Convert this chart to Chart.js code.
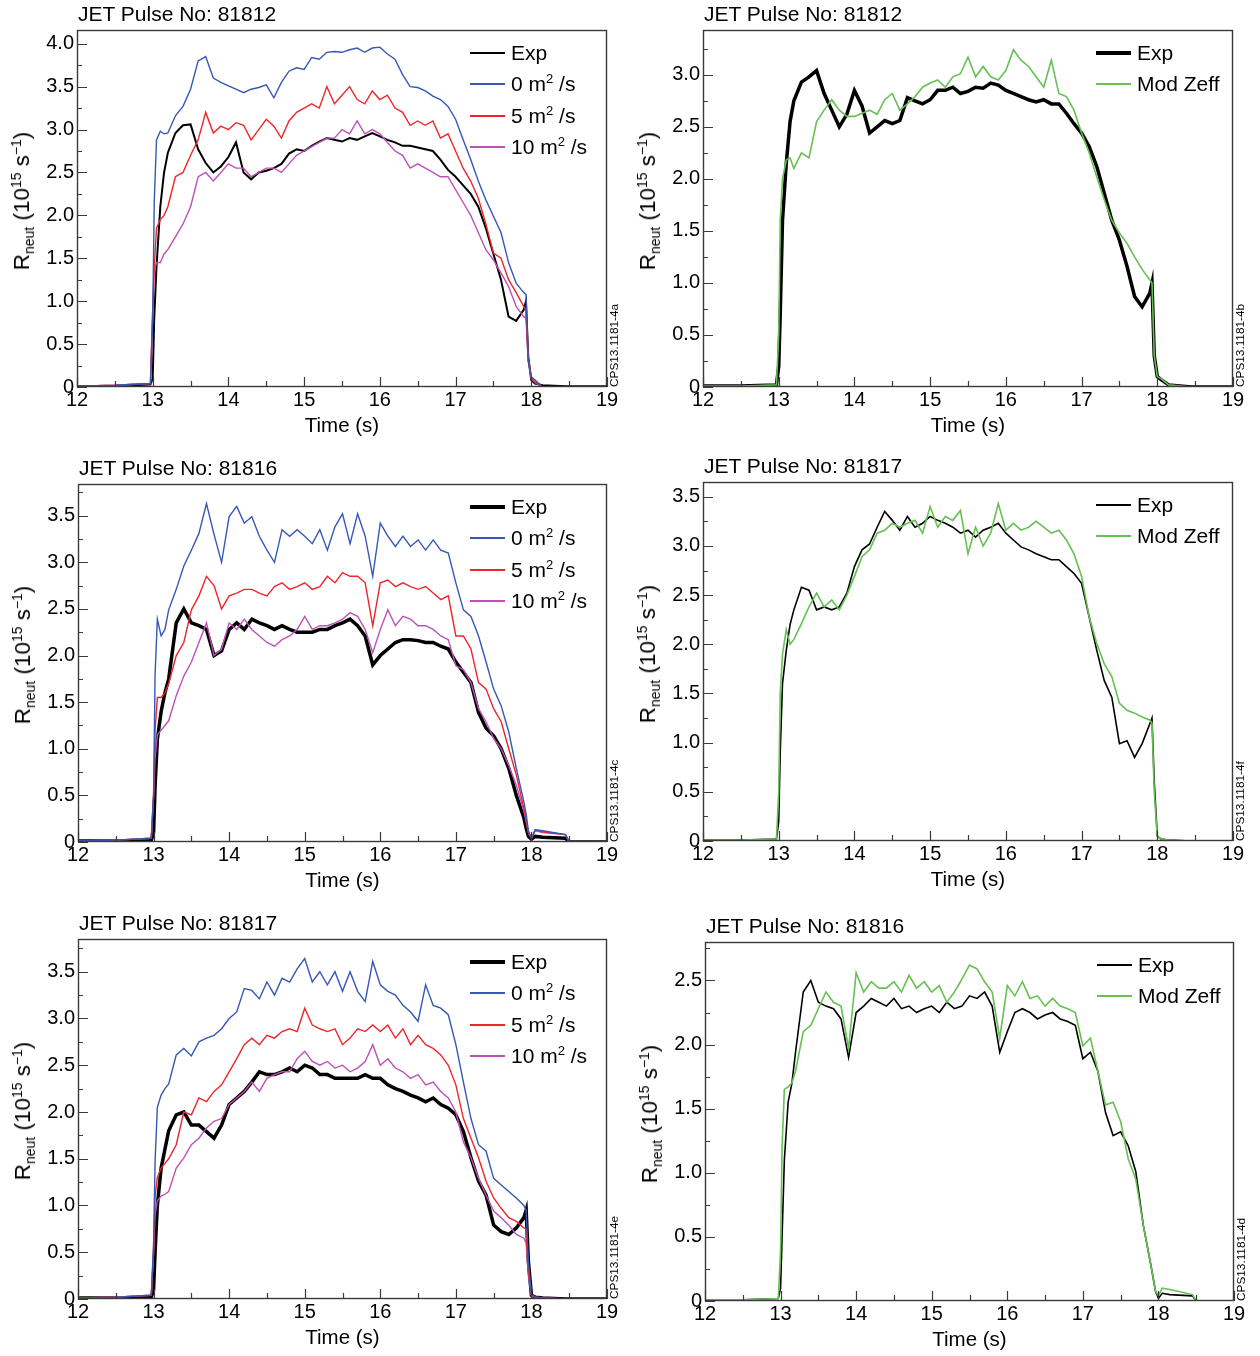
<!DOCTYPE html>
<html lang="en">
<head>
<meta charset="UTF-8">
<title>JET neutron rate: Exp vs model</title>
<script src="https://cdn.jsdelivr.net/npm/chart.js"></script>
<style>
  body { margin: 0; background: #fff; font-family: 'Liberation Sans', Arial, sans-serif; color: #000; }
  #page { position: relative; width: 1260px; height: 1356px; overflow: hidden; }
  #page canvas, .txt { position: absolute; }
  .txt { white-space: nowrap; }
  .ttl { font-size: 21px; line-height: 24px; }
  .ytl { font-size: 22.5px; line-height: 26px; transform: translate(-50%, -50%) rotate(-90deg); }
  .leg { font-size: 21px; line-height: 24px; }
  .legline { position: absolute; }
  .cps { font-size: 11.8px; line-height: 13px; transform-origin: 0 0; transform: rotate(-90deg); }
  sup { font-size: 62%; position: relative; top: -0.6em; vertical-align: baseline; line-height: 0; }
  sub { font-size: 62%; position: relative; top: 0.35em; vertical-align: baseline; line-height: 0; }
</style>
</head>
<body>
<div id="page"></div>
<script>
// time base (s), shared by every series below
const time = [12.0, 12.5, 12.97,
  13.0, 13.02, 13.05, 13.1, 13.15, 13.2,
  13.3, 13.4, 13.5, 13.6, 13.7, 13.8, 13.9,
  14.0, 14.1, 14.2, 14.3, 14.4, 14.5, 14.6, 14.7, 14.8, 14.9,
  15.0, 15.1, 15.2, 15.3, 15.4, 15.5, 15.6, 15.7, 15.8, 15.9,
  16.0, 16.1, 16.2, 16.3, 16.4, 16.5, 16.6, 16.7, 16.8, 16.9,
  17.0, 17.1, 17.2, 17.3, 17.4, 17.5, 17.6, 17.7, 17.8, 17.9,
  17.93, 17.96, 18.0, 18.05, 18.15, 18.45, 18.5, 19.0];

const xTicks = [12, 13, 14, 15, 16, 17, 18, 19];

// (a) pulse 81812, diffusion scan
const expA = [0.01, 0.01, 0.03,
  0.1, 0.8, 1.4, 2.1, 2.5, 2.73,
  2.96, 3.05, 3.06, 2.77, 2.61, 2.5, 2.57,
  2.68, 2.85, 2.5, 2.42, 2.5, 2.52, 2.55, 2.6, 2.72, 2.77,
  2.75, 2.81, 2.86, 2.9, 2.88, 2.86, 2.9, 2.88, 2.92, 2.96,
  2.92, 2.88, 2.85, 2.81, 2.81, 2.79, 2.77, 2.75, 2.65, 2.53,
  2.45, 2.35, 2.25, 2.1, 1.85, 1.55, 1.25, 0.82, 0.77, 0.9,
  1.0, 0.35, 0.08, 0.04, 0.02, 0.01, 0.01, 0.01];
const d0A = [0.01, 0.02, 0.04,
  0.8, 2.15, 2.88, 2.98, 2.95, 2.96,
  3.16, 3.27, 3.47, 3.8, 3.85, 3.6, 3.55,
  3.51, 3.47, 3.43, 3.47, 3.49, 3.52, 3.37, 3.55, 3.68, 3.72,
  3.7, 3.84, 3.82, 3.9, 3.91, 3.9, 3.93, 3.95, 3.9, 3.95,
  3.96, 3.88, 3.82, 3.64, 3.5, 3.49, 3.45, 3.39, 3.35, 3.27,
  3.12, 2.88, 2.65, 2.4, 2.18, 1.99, 1.8, 1.45, 1.21, 1.1,
  1.08, 0.3, 0.12, 0.08, 0.0, 0.0, 0.0, 0.0];
const d5A = [0.01, 0.02, 0.04,
  0.9, 1.4, 1.85, 1.95, 2.0, 2.1,
  2.45, 2.5, 2.7, 2.88, 3.2, 2.96, 3.04,
  3.0, 3.08, 3.05, 2.88, 3.0, 3.12, 3.04, 2.9, 3.1, 3.2,
  3.25, 3.3, 3.25, 3.5, 3.3, 3.4, 3.5, 3.35, 3.3, 3.45,
  3.35, 3.4, 3.25, 3.2, 3.05, 3.1, 3.05, 3.1, 2.9, 2.95,
  2.75, 2.55, 2.4, 2.2, 1.9, 1.56, 1.5, 1.25, 1.1, 0.94,
  0.9, 0.35, 0.1, 0.06, 0.0, 0.0, 0.0, 0.0];
const d10A = [0.01, 0.02, 0.04,
  0.9, 1.35, 1.45, 1.45, 1.55, 1.6,
  1.75, 1.9, 2.1, 2.45, 2.5, 2.4, 2.5,
  2.6, 2.55, 2.55, 2.45, 2.5, 2.55, 2.55, 2.5, 2.6, 2.7,
  2.75, 2.8, 2.85, 2.9, 2.9, 3.0, 2.95, 3.1, 2.95, 3.0,
  2.95, 2.85, 2.75, 2.7, 2.55, 2.6, 2.55, 2.5, 2.45, 2.45,
  2.3, 2.15, 2.0, 1.8, 1.6, 1.48, 1.33, 1.17, 0.94, 0.82,
  0.8, 0.3, 0.1, 0.05, 0.0, 0.0, 0.0, 0.0];

// (b) pulse 81812, modified Zeff
const expB = [0.01, 0.01, 0.02,
  0.2, 0.7, 1.6, 2.15, 2.55, 2.75,
  2.93, 2.98, 3.04, 2.82, 2.66, 2.5, 2.62,
  2.85, 2.7, 2.44, 2.5, 2.56, 2.53, 2.56, 2.78, 2.75, 2.72,
  2.76, 2.85, 2.85, 2.88, 2.82, 2.84, 2.88, 2.87, 2.92, 2.9,
  2.85, 2.82, 2.79, 2.76, 2.74, 2.76, 2.72, 2.72, 2.63, 2.53,
  2.44, 2.31, 2.12, 1.86, 1.6, 1.41, 1.16, 0.87, 0.77, 0.9,
  1.0, 0.3, 0.1, 0.07, 0.02, 0.0, 0.0, 0.0];
const zeffB = [0.01, 0.01, 0.02,
  0.5, 1.6, 2.0, 2.18, 2.2, 2.1,
  2.25, 2.2, 2.55, 2.66, 2.76, 2.66, 2.6,
  2.6, 2.63, 2.66, 2.62, 2.76, 2.82, 2.66, 2.72, 2.79, 2.88,
  2.92, 2.95, 2.88, 2.98, 3.01, 3.17, 2.98, 3.08, 2.98, 2.95,
  3.04, 3.24, 3.14, 3.08, 2.98, 2.88, 3.14, 2.82, 2.79, 2.66,
  2.44, 2.25, 2.02, 1.8, 1.6, 1.48, 1.38, 1.25, 1.13, 1.03,
  1.0, 0.3, 0.1, 0.08, 0.02, 0.0, 0.0, 0.0];

// (c) pulse 81816, diffusion scan
const expC = [0.01, 0.01, 0.02,
  0.1, 0.6, 1.1, 1.4, 1.6, 1.75,
  2.35, 2.5, 2.35, 2.32, 2.28, 2.0, 2.05,
  2.28, 2.35, 2.28, 2.39, 2.35, 2.32, 2.28, 2.32, 2.28, 2.25,
  2.25, 2.25, 2.28, 2.28, 2.32, 2.35, 2.39, 2.32, 2.21, 1.9,
  2.0, 2.07, 2.14, 2.17, 2.17, 2.16, 2.14, 2.14, 2.1, 2.07,
  1.93, 1.82, 1.71, 1.39, 1.22, 1.14, 1.0, 0.79, 0.5, 0.26,
  0.15, 0.06, 0.03, 0.06, 0.05, 0.04, 0.0, 0.0];
const d0C = [0.01, 0.02, 0.04,
  0.5, 1.8, 2.39, 2.21, 2.28, 2.49,
  2.71, 2.96, 3.13, 3.31, 3.63, 3.3, 3.0,
  3.49, 3.6, 3.42, 3.49, 3.28, 3.13, 3.0, 3.35, 3.28, 3.35,
  3.28, 3.2, 3.35, 3.13, 3.38, 3.52, 3.2, 3.52, 3.28, 2.85,
  3.42, 3.28, 3.17, 3.28, 3.17, 3.24, 3.13, 3.24, 3.13, 3.1,
  2.78, 2.49, 2.42, 2.21, 1.93, 1.64, 1.46, 1.18, 0.79, 0.43,
  0.3, 0.12, 0.04, 0.13, 0.12, 0.08, 0.0, 0.0];
const d5C = [0.01, 0.02, 0.04,
  0.5, 1.2, 1.55, 1.55, 1.6, 1.7,
  2.0, 2.14, 2.49, 2.64, 2.85, 2.75, 2.5,
  2.64, 2.67, 2.71, 2.71, 2.67, 2.64, 2.74, 2.78, 2.71, 2.74,
  2.78, 2.71, 2.74, 2.85, 2.78, 2.89, 2.85, 2.85, 2.78, 2.32,
  2.78, 2.81, 2.74, 2.78, 2.74, 2.71, 2.74, 2.67, 2.6, 2.64,
  2.21, 2.21, 2.07, 1.71, 1.64, 1.43, 1.29, 1.0, 0.72, 0.36,
  0.25, 0.1, 0.04, 0.13, 0.11, 0.08, 0.0, 0.0];
const d10C = [0.01, 0.02, 0.04,
  0.5, 0.9, 1.15, 1.2, 1.25, 1.3,
  1.57, 1.78, 1.93, 2.14, 2.35, 2.0, 2.07,
  2.35, 2.28, 2.39, 2.28, 2.21, 2.14, 2.1, 2.17, 2.21, 2.28,
  2.42, 2.28, 2.32, 2.32, 2.35, 2.39, 2.46, 2.42, 2.28, 2.03,
  2.28, 2.49, 2.32, 2.42, 2.39, 2.32, 2.32, 2.28, 2.21, 2.17,
  1.89, 1.85, 1.71, 1.43, 1.29, 1.11, 1.0, 0.82, 0.61, 0.33,
  0.22, 0.1, 0.04, 0.12, 0.1, 0.08, 0.0, 0.0];

// (f) pulse 81817, modified Zeff
const expF = [0.01, 0.01, 0.02,
  0.2, 0.9, 1.6, 1.94, 2.2, 2.35,
  2.58, 2.55, 2.35, 2.38, 2.35, 2.38, 2.52,
  2.79, 2.96, 3.02, 3.19, 3.35, 3.26, 3.16, 3.3, 3.19, 3.23,
  3.3, 3.26, 3.23, 3.19, 3.13, 3.16, 3.09, 3.16, 3.19, 3.23,
  3.13, 3.06, 2.99, 2.96, 2.92, 2.89, 2.86, 2.86, 2.79, 2.72,
  2.62, 2.28, 1.94, 1.63, 1.46, 0.99, 1.02, 0.85, 0.99, 1.19,
  1.25, 0.6, 0.05, 0.02, 0.01, 0.0, 0.0, 0.0];
const zeffF = [0.01, 0.01, 0.02,
  0.5, 1.5, 1.9, 2.15, 2.0, 2.05,
  2.21, 2.38, 2.52, 2.38, 2.45, 2.35, 2.5,
  2.69, 2.89, 2.96, 3.13, 3.16, 3.23, 3.19, 3.23, 3.26, 3.13,
  3.4, 3.19, 3.3, 3.26, 3.36, 2.92, 3.19, 3.0, 3.13, 3.43,
  3.16, 3.23, 3.16, 3.19, 3.25, 3.19, 3.13, 3.16, 3.06, 2.92,
  2.69, 2.28, 2.01, 1.8, 1.67, 1.4, 1.33, 1.3, 1.26, 1.23,
  1.2, 0.5, 0.05, 0.02, 0.01, 0.0, 0.0, 0.0];

// (e) pulse 81817, diffusion scan
const expE = [0.01, 0.01, 0.02,
  0.1, 0.5, 1.0, 1.4, 1.6, 1.8,
  1.97, 2.0, 1.86, 1.86, 1.79, 1.72, 1.86,
  2.08, 2.15, 2.22, 2.32, 2.43, 2.4, 2.4, 2.43, 2.47, 2.43,
  2.5, 2.47, 2.4, 2.4, 2.36, 2.36, 2.36, 2.36, 2.4, 2.36,
  2.36, 2.29, 2.25, 2.22, 2.18, 2.15, 2.11, 2.15, 2.08, 2.04,
  1.97, 1.79, 1.51, 1.26, 1.11, 0.79, 0.72, 0.69, 0.76, 0.87,
  0.95, 0.4, 0.04, 0.02, 0.01, 0.0, 0.0, 0.0];
const d0E = [0.01, 0.02, 0.04,
  0.6, 1.47, 2.05, 2.18, 2.25, 2.3,
  2.61, 2.68, 2.6, 2.75, 2.79, 2.82, 2.89,
  3.0, 3.07, 3.32, 3.3, 3.21, 3.39, 3.25, 3.43, 3.39, 3.53,
  3.64, 3.39, 3.5, 3.36, 3.5, 3.29, 3.5, 3.29, 3.18, 3.61,
  3.36, 3.29, 3.25, 3.14, 3.07, 2.97, 3.36, 3.14, 3.11, 3.04,
  2.72, 2.32, 1.93, 1.65, 1.58, 1.29, 1.22, 1.15, 1.08, 1.0,
  0.95, 0.4, 0.05, 0.02, 0.01, 0.0, 0.0, 0.0];
const d5E = [0.01, 0.02, 0.04,
  0.5, 1.1, 1.3, 1.4, 1.45, 1.5,
  1.65, 2.0, 1.97, 2.15, 2.11, 2.22, 2.29,
  2.43, 2.57, 2.72, 2.79, 2.72, 2.82, 2.79, 2.86, 2.89, 2.86,
  3.11, 2.93, 2.89, 2.86, 2.89, 2.72, 2.79, 2.89, 2.86, 2.93,
  2.86, 2.93, 2.79, 2.89, 2.72, 2.82, 2.72, 2.68, 2.61, 2.5,
  2.29, 1.93, 1.72, 1.51, 1.26, 1.08, 0.97, 0.87, 0.83, 0.76,
  0.75, 0.3, 0.04, 0.02, 0.01, 0.0, 0.0, 0.0];
const d10E = [0.01, 0.02, 0.04,
  0.5, 0.9, 1.05, 1.1, 1.12, 1.15,
  1.4, 1.51, 1.65, 1.72, 1.83, 1.9, 1.93,
  2.08, 2.15, 2.22, 2.32, 2.22, 2.36, 2.4, 2.43, 2.43, 2.57,
  2.65, 2.54, 2.5, 2.54, 2.47, 2.5, 2.43, 2.47, 2.54, 2.72,
  2.5, 2.57, 2.47, 2.43, 2.36, 2.4, 2.29, 2.32, 2.22, 2.15,
  2.0, 1.68, 1.51, 1.29, 1.11, 0.94, 0.87, 0.79, 0.69, 0.65,
  0.6, 0.25, 0.03, 0.02, 0.01, 0.0, 0.0, 0.0];

// (d) pulse 81816, modified Zeff
const expD = [0.01, 0.01, 0.02,
  0.1, 0.5, 1.1, 1.55, 1.7, 1.95,
  2.41, 2.5, 2.33, 2.3, 2.28, 2.2, 1.9,
  2.25, 2.3, 2.36, 2.33, 2.3, 2.36, 2.28, 2.3, 2.25, 2.28,
  2.3, 2.25, 2.33, 2.28, 2.3, 2.38, 2.36, 2.41, 2.3, 1.94,
  2.1, 2.25, 2.28, 2.25, 2.2, 2.23, 2.25, 2.2, 2.18, 2.15,
  1.89, 1.94, 1.79, 1.47, 1.29, 1.32, 1.21, 1.01, 0.59, 0.28,
  0.18, 0.08, 0.02, 0.06, 0.05, 0.04, 0.0, 0.0];
const zeffD = [0.01, 0.01, 0.02,
  0.4, 1.2, 1.65, 1.67, 1.7, 1.8,
  2.1, 2.15, 2.28, 2.41, 2.33, 2.3, 1.97,
  2.56, 2.41, 2.49, 2.44, 2.44, 2.49, 2.41, 2.54, 2.44, 2.49,
  2.41, 2.46, 2.33, 2.41, 2.51, 2.62, 2.59, 2.49, 2.41, 2.05,
  2.46, 2.38, 2.49, 2.36, 2.38, 2.3, 2.36, 2.3, 2.28, 2.25,
  1.99, 2.05, 1.79, 1.53, 1.55, 1.4, 1.11, 0.95, 0.59, 0.28,
  0.18, 0.08, 0.04, 0.1, 0.09, 0.05, 0.0, 0.0];

const FONT = "'Liberation Sans', Arial, sans-serif";
const BLUE = '#3658b4', RED = '#ef252b', MAG = '#bf50b6', GREEN = '#66c053';

const L_EXP = 'Exp', L0 = '0 m<sup>2</sup> /s', L5 = '5 m<sup>2</sup> /s', L10 = '10 m<sup>2</sup> /s', LZ = 'Mod Zeff';

// box = [left, top, right, bottom] of the plot frame on the page
// series rows: [legend text, values, colour, line width, legend line width]
const panels = [
  { pulse: '81812', tag: '4a', box: [77, 30, 607, 387], ymax: 4.16,
    series: [[L_EXP, expA, '#000', 2, 2], [L0, d0A, BLUE, 1.4, 2], [L5, d5A, RED, 1.4, 2], [L10, d10A, MAG, 1.4, 2]] },
  { pulse: '81812', tag: '4b', box: [703, 30, 1233, 387], ymax: 3.43,
    series: [[L_EXP, expB, '#000', 3.5, 4], [LZ, zeffB, GREEN, 1.6, 2]] },
  { pulse: '81816', tag: '4c', box: [78, 484, 607, 842], ymax: 3.84,
    series: [[L_EXP, expC, '#000', 3.5, 4], [L0, d0C, BLUE, 1.4, 2], [L5, d5C, RED, 1.4, 2], [L10, d10C, MAG, 1.4, 2]] },
  { pulse: '81817', tag: '4f', box: [703, 482, 1233, 841], ymax: 3.65,
    series: [[L_EXP, expF, '#000', 1.6, 2], [LZ, zeffF, GREEN, 1.6, 2]] },
  { pulse: '81817', tag: '4e', box: [78, 939, 607, 1299], ymax: 3.85,
    series: [[L_EXP, expE, '#000', 3.5, 4], [L0, d0E, BLUE, 1.4, 2], [L5, d5E, RED, 1.4, 2], [L10, d10E, MAG, 1.4, 2]] },
  { pulse: '81816', tag: '4d', box: [705, 942, 1234, 1301], ymax: 2.80,
    series: [[L_EXP, expD, '#000', 1.6, 2], [LZ, zeffD, GREEN, 1.6, 2]] }
];

// inward ticks and the frame, ROOT style
const frameTicks = {
  id: 'frameTicks',
  afterDatasetsDraw(chart) {
    const { ctx, chartArea: a, scales: { x, y } } = chart;
    ctx.save();
    ctx.strokeStyle = '#3a3a3a';
    ctx.lineWidth = 1.2;
    ctx.beginPath();
    x.ticks.forEach(t => {
      const px = Math.round(x.getPixelForValue(t.value)) + 0.5;
      ctx.moveTo(px, a.bottom); ctx.lineTo(px, a.bottom - 10);
      if (t.value + 0.5 < x.max) {
        const pm = Math.round(x.getPixelForValue(t.value + 0.5)) + 0.5;
        ctx.moveTo(pm, a.bottom); ctx.lineTo(pm, a.bottom - 6);
      }
    });
    y.ticks.forEach(t => {
      const py = Math.round(y.getPixelForValue(t.value)) + 0.5;
      ctx.moveTo(a.left, py); ctx.lineTo(a.left + 10, py);
      if (t.value + 0.25 < y.max) {
        const pm = Math.round(y.getPixelForValue(t.value + 0.25)) + 0.5;
        ctx.moveTo(a.left, pm); ctx.lineTo(a.left + 5, pm);
      }
    });
    ctx.stroke();
    ctx.lineWidth = 1.4;
    ctx.strokeRect(Math.round(a.left) + 0.5, Math.round(a.top) + 0.5,
      Math.round(a.width) - 1, Math.round(a.height) - 1);
    ctx.restore();
  }
};

const page = document.getElementById('page');

function addText(cls, html, style) {
  const d = document.createElement('div');
  d.className = 'txt ' + cls;
  d.innerHTML = html;
  Object.assign(d.style, style);
  page.appendChild(d);
  return d;
}

const PAD = 22;   // canvas margin above and right of the frame

panels.forEach(p => {
  const [L, T, R, B] = p.box;
  const cv = document.createElement('canvas');
  cv.width = (R - L) + 70 + PAD;
  cv.height = (B - T) + PAD + 55;
  cv.style.left = (L - 70) + 'px';
  cv.style.top = (T - PAD) + 'px';
  page.appendChild(cv);

  new Chart(cv, {
    type: 'line',
    data: {
      datasets: p.series.map((s, i) => ({
        label: s[0],
        data: time.map((t, k) => ({ x: t, y: s[1][k] })),
        borderColor: s[2],
        borderWidth: s[3],
        pointRadius: 0,
        tension: 0,
        fill: false,
        order: i === 0 ? 10 : i
      }))
    },
    options: {
      responsive: false,
      animation: false,
      devicePixelRatio: 1,
      events: [],
      layout: { padding: { left: 0, right: PAD, top: PAD, bottom: 0 } },
      plugins: { legend: { display: false }, tooltip: { enabled: false } },
      scales: {
        x: {
          type: 'linear', min: xTicks[0], max: xTicks[xTicks.length - 1],
          afterFit(s) { s.height = 55; },
          afterBuildTicks(s) { s.ticks = xTicks.map(v => ({ value: v })); },
          grid: { display: false, drawTicks: false },
          border: { display: false },
          ticks: { autoSkip: false, maxRotation: 0, padding: 1, color: '#000',
                   font: { family: FONT, size: 20 }, callback: v => String(v) },
          title: { display: true, text: 'Time (s)', color: '#000',
                   font: { family: FONT, size: 20.5 }, padding: { top: 0, bottom: 3 } }
        },
        y: {
          type: 'linear', min: 0, max: p.ymax,
          afterFit(s) { s.width = 70; },
          grid: { display: false, drawTicks: false },
          border: { display: false },
          ticks: { stepSize: 0.5, includeBounds: false, autoSkip: false, padding: 3, color: '#000',
                   font: { family: FONT, size: 20 },
                   callback: v => (v === 0 ? '0' : v.toFixed(1)) }
        }
      }
    },
    plugins: [frameTicks]
  });

  // title, axis label, legend, figure tag
  addText('ttl', 'JET Pulse No: ' + p.pulse, { left: (L + 1) + 'px', top: (T - 28) + 'px' });
  addText('ytl', 'R<sub>neut</sub> (10<sup>15</sup> s<sup>\u22121</sup>)',
    { left: (L - 55) + 'px', top: ((T + B) / 2 - 8) + 'px' });
  p.series.forEach((s, i) => {
    const cy = Math.round(T + 23 + i * 31.3);
    const ln = document.createElement('div');
    ln.className = 'legline';
    Object.assign(ln.style, { left: (R - 137) + 'px', width: '35px',
      top: Math.round(cy - s[4] / 2) + 'px', height: s[4] + 'px', background: s[2] });
    page.appendChild(ln);
    addText('leg', s[0], { left: (R - 96) + 'px', top: (cy - 12) + 'px' });
  });
  addText('cps', 'CPS13.1181-' + p.tag, { left: (R + 1) + 'px', top: B + 'px' });
});
</script>
</body>
</html>
